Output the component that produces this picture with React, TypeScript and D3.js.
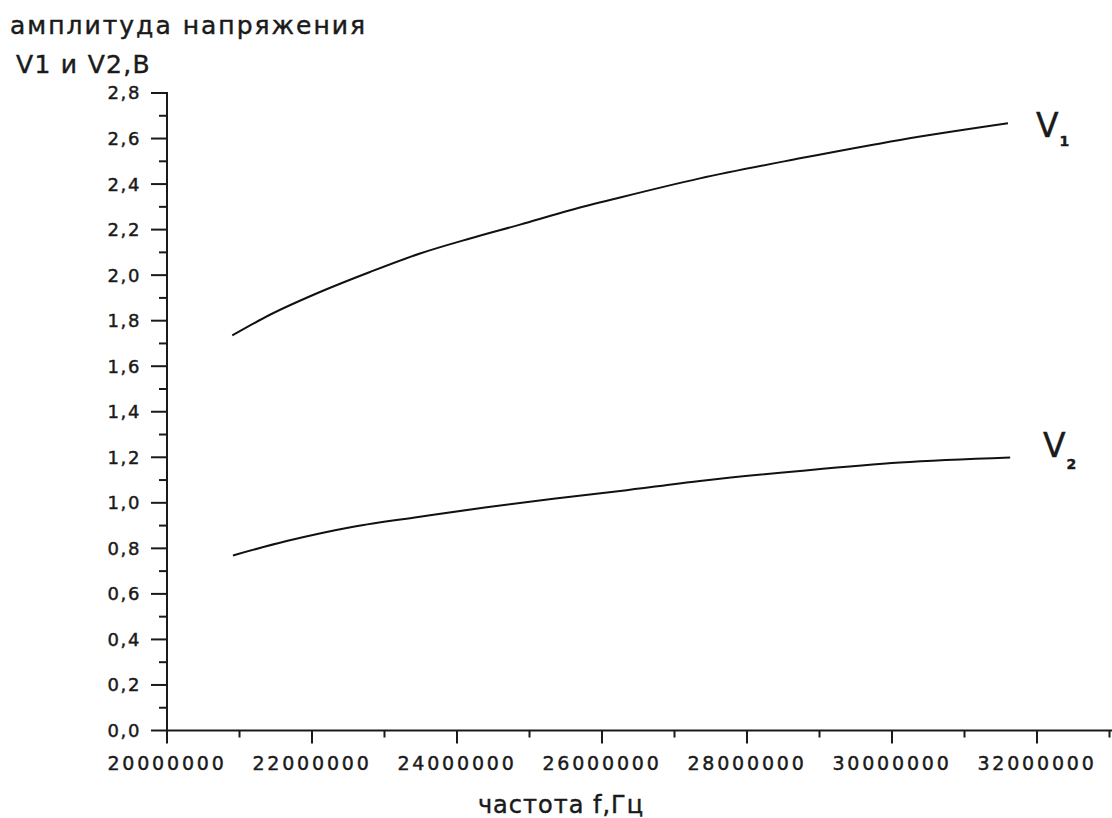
import React from "react";
import * as d3 from "d3";

// Frequency (Hz) and amplitude (V)
const freqV1 = [20.9e6, 21.42e6, 22.11e6, 22.8e6, 23.49e6, 24.18e6, 24.87e6, 25.56e6, 26.25e6, 27.35e6, 28.73e6, 30.11e6, 31.6e6];
const ampV1 = [1.735, 1.826, 1.926, 2.014, 2.095, 2.161, 2.222, 2.285, 2.341, 2.425, 2.513, 2.594, 2.667];

const freqV2 = [20.91e6, 21.65e6, 22.57e6, 23.49e6, 24.41e6, 25.33e6, 26.25e6, 27.35e6, 28.73e6, 30.11e6, 31.63e6];
const ampV2 = [0.769, 0.832, 0.895, 0.939, 0.981, 1.018, 1.052, 1.096, 1.14, 1.177, 1.199];

const xMajorTicks = [20e6, 22e6, 24e6, 26e6, 28e6, 30e6, 32e6];
const xMinorTicks = [21e6, 23e6, 25e6, 27e6, 29e6, 31e6, 33e6];
const yMajorTicks = [0, 0.2, 0.4, 0.6, 0.8, 1.0, 1.2, 1.4, 1.6, 1.8, 2.0, 2.2, 2.4, 2.6, 2.8];
const yMinorTicks = [0.1, 0.3, 0.5, 0.7, 0.9, 1.1, 1.3, 1.5, 1.7, 1.9, 2.1, 2.3, 2.5, 2.7];

const yTitleLines = ["амплитуда напряжения", "V1 и V2,В"];
const xTitle = "частота f,Гц";

const W = 1112;
const H = 818;
const left = 167;
const bottom = 730.5;
const top = 93;

const x = d3.scaleLinear().domain([20e6, 32e6]).range([left, 1037]);
const y = d3.scaleLinear().domain([0, 2.8]).range([bottom, top]);

const font = "'DejaVu Sans', Verdana, sans-serif";
const ink = "#1a1a1a";
// slight outline to give the text a heavier, screen-rendered look
const heavy = { stroke: ink, strokeWidth: 0.45 };

const fmtX = (v: number) => String(Math.round(v));
const fmtY = (v: number) => v.toFixed(1).replace(".", ",");

function curvePath(fs: number[], vs: number[]) {
  const line = d3
    .line<number>()
    .x((_, i) => x(fs[i]))
    .y((v) => y(v))
    .curve(d3.curveMonotoneX);
  return line(vs) || "";
}

export default function App() {
  return (
    <svg
      width={W}
      height={H}
      style={{ position: "absolute", left: 0, top: 0, background: "#fff" }}
      fontFamily={font}
    >
      <rect width={W} height={H} fill="#fff" />

      {/* y-axis title */}
      <text x={10} y={34} fontSize={25} fill={ink} letterSpacing={2} {...heavy}>
        {yTitleLines[0]}
      </text>
      <text x={16} y={73} fontSize={25} fill={ink} letterSpacing={1.3} {...heavy}>
        {yTitleLines[1]}
      </text>

      {/* axes */}
      <g stroke={ink} strokeWidth={2} fill="none">
        <line x1={left} y1={bottom} x2={left} y2={top - 1} />
        <line x1={left} y1={bottom} x2={W} y2={bottom} />
        {yMajorTicks.map((t) => (
          <line key={"ym" + t} x1={left - 16} x2={left} y1={y(t)} y2={y(t)} />
        ))}
        {yMinorTicks.map((t) => (
          <line key={"yn" + t} x1={left - 8} x2={left} y1={y(t)} y2={y(t)} />
        ))}
        {xMajorTicks.map((t) => (
          <line key={"xm" + t} x1={x(t)} x2={x(t)} y1={bottom} y2={bottom + 13} />
        ))}
        {xMinorTicks.map((t) => (
          <line key={"xn" + t} x1={x(t)} x2={x(t)} y1={bottom} y2={bottom + 7} />
        ))}
      </g>

      {/* tick labels */}
      {yMajorTicks.map((t) => (
        <text
          key={"yl" + t}
          x={left - 26}
          y={y(t)}
          dy="0.36em"
          textAnchor="end"
          fontSize={18}
          letterSpacing={1.6}
          fill={ink}
          {...heavy}
        >
          {fmtY(t)}
        </text>
      ))}
      {xMajorTicks.map((t) => (
        <text
          key={"xl" + t}
          x={x(t)}
          y={770}
          textAnchor="middle"
          fontSize={19}
          letterSpacing={2.8}
          fill={ink}
          {...heavy}
        >
          {fmtX(t)}
        </text>
      ))}

      {/* x-axis title */}
      <text x={561} y={813} textAnchor="middle" fontSize={24} letterSpacing={1} fill={ink} {...heavy}>
        {xTitle}
      </text>

      {/* curves */}
      <path d={curvePath(freqV1, ampV1)} stroke="#111" strokeWidth={2} fill="none" />
      <path d={curvePath(freqV2, ampV2)} stroke="#111" strokeWidth={2} fill="none" />

      {/* curve labels */}
      <text x={1036} y={137} fontSize={33} fill={ink} {...heavy}>
        V
        <tspan fontSize={14} dy={9} dx={1} fontWeight="bold">1</tspan>
      </text>
      <text x={1043} y={457} fontSize={33} fill={ink} {...heavy}>
        V
        <tspan fontSize={14} dy={12} dx={1} fontWeight="bold">2</tspan>
      </text>
    </svg>
  );
}
